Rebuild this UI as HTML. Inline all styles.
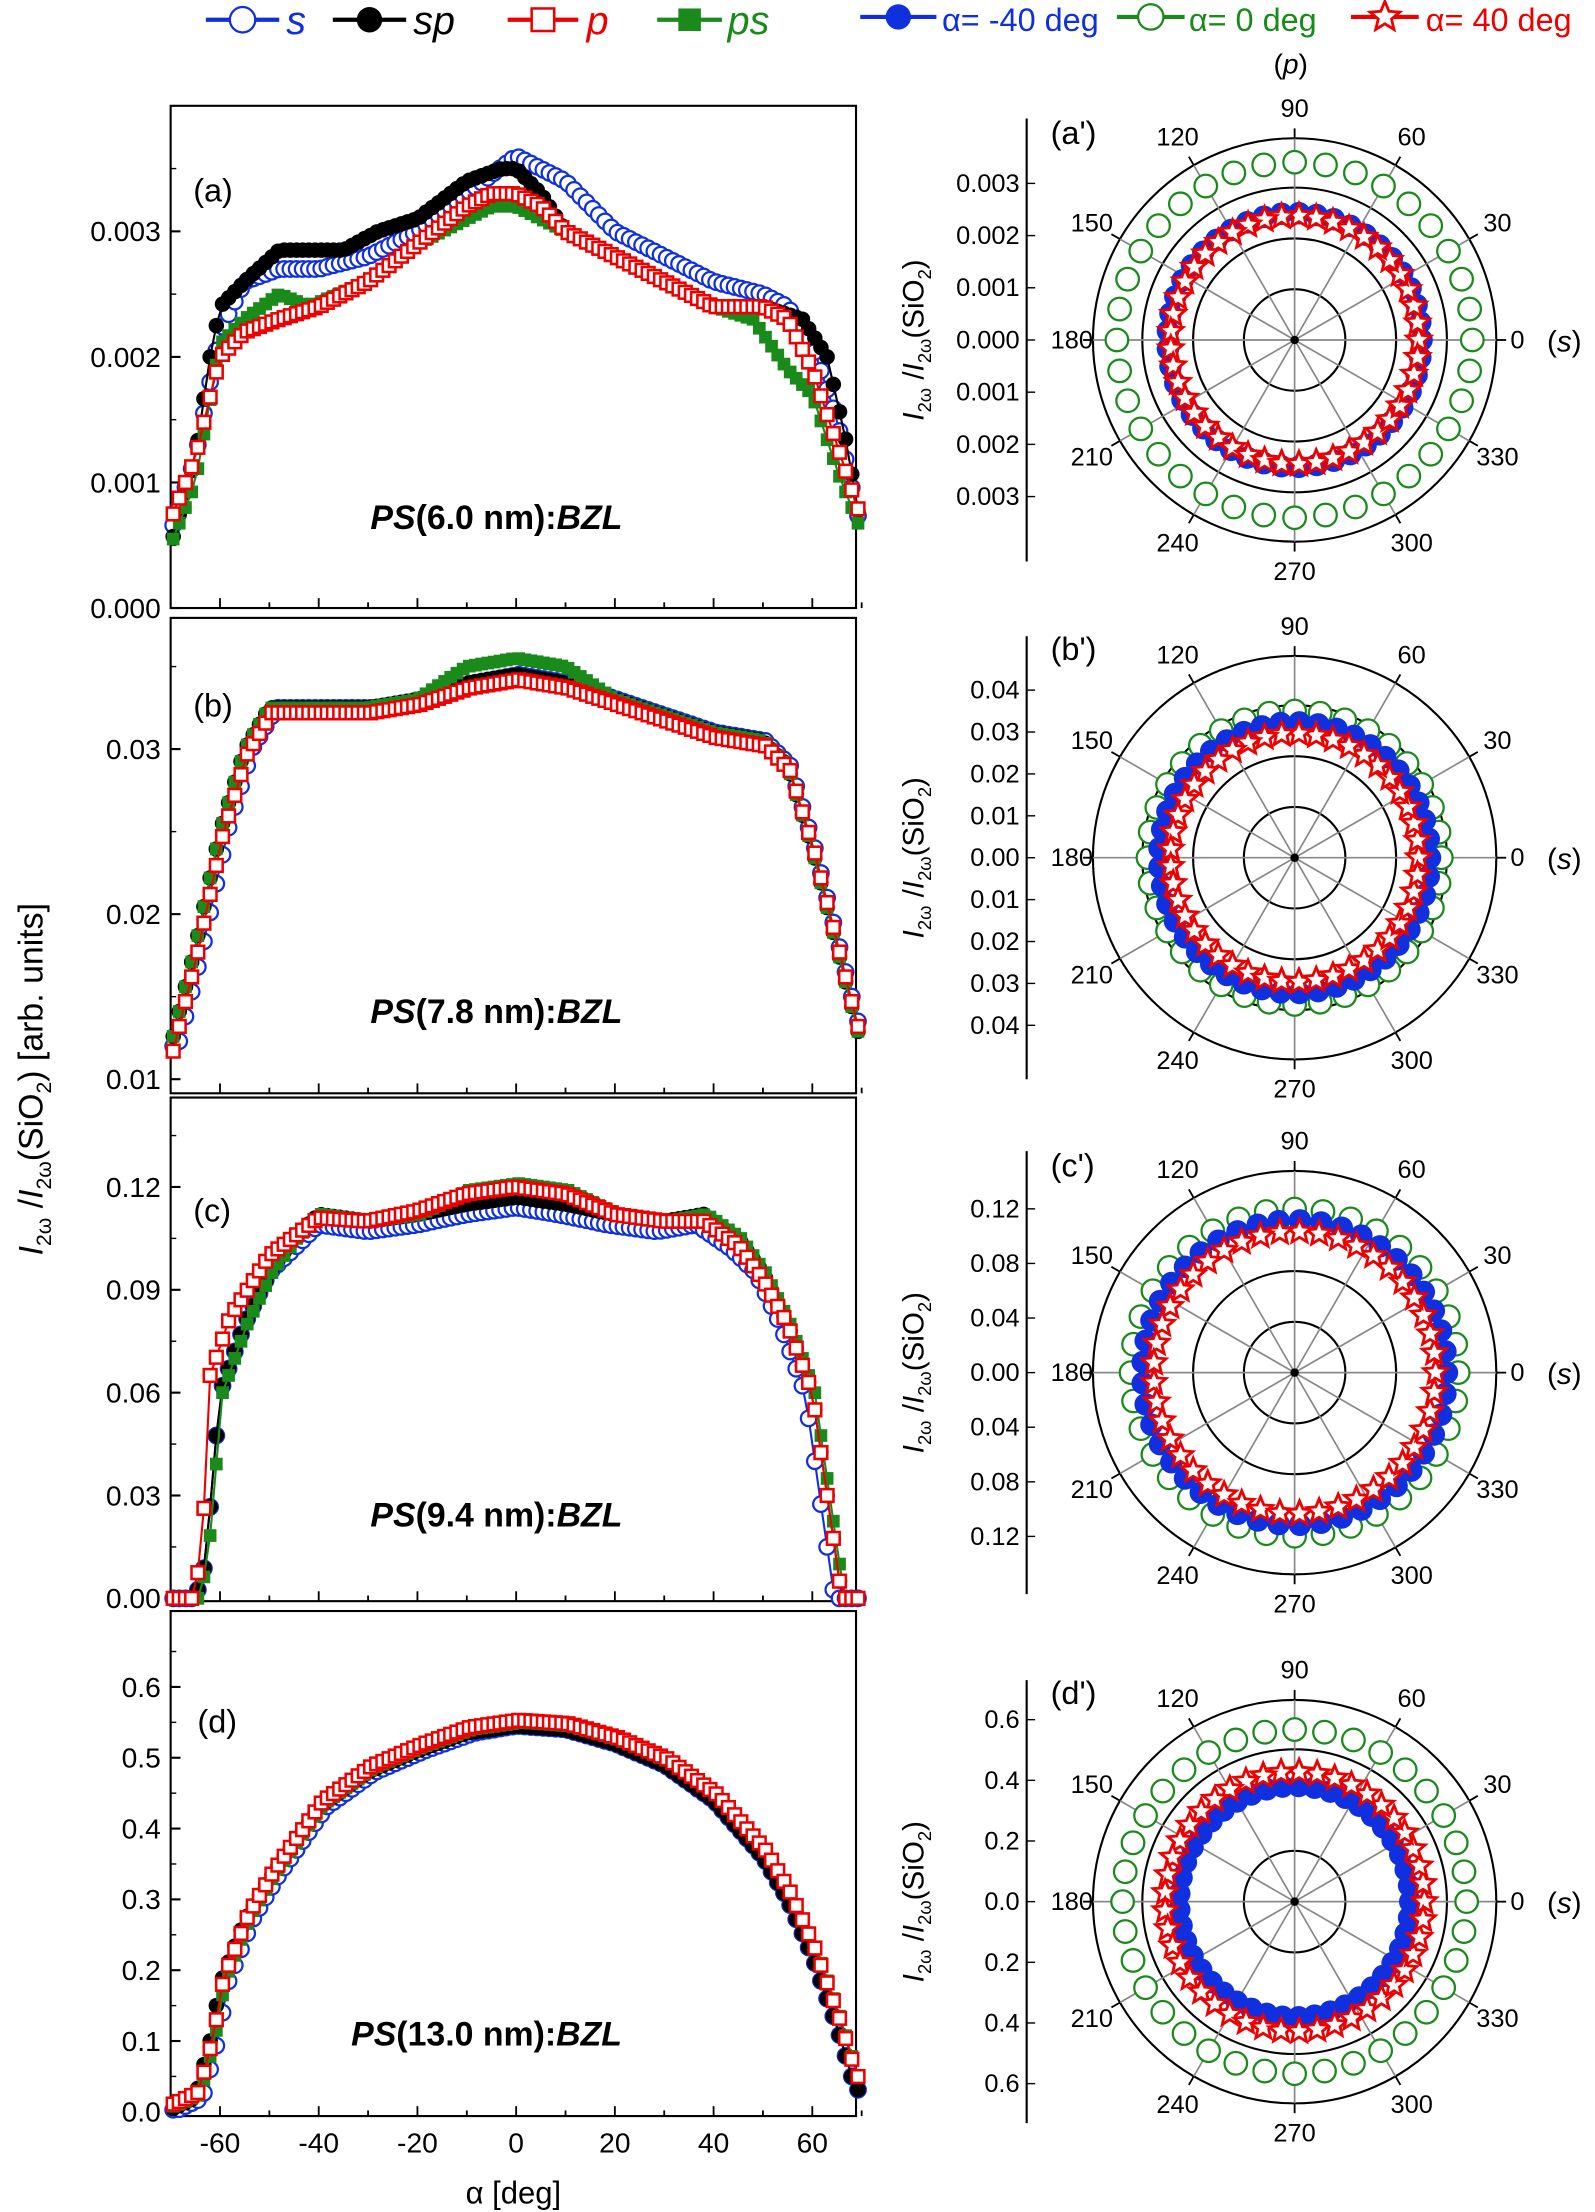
<!DOCTYPE html>
<html><head><meta charset="utf-8"><style>
html,body{margin:0;padding:0;background:#fff}
svg{display:block}
text{font-family:"Liberation Sans",sans-serif}
</style></head><body>
<svg id="s" width="1595" height="2212" viewBox="0 0 1131 1568" preserveAspectRatio="none" xmlns="http://www.w3.org/2000/svg">
<g id="g"></g>
<g font-size="28" font-style="italic">
<text x="203" y="24" fill="#1030e0">s</text>
<text x="293" y="24" fill="#000">sp</text>
<text x="416" y="24" fill="#e00">p</text>
<text x="516" y="24" fill="#1a8a1a">ps</text>
</g>
<g font-size="23">
<text x="668" y="22" fill="#1030e0">α= -40 deg</text>
<text x="843" y="22" fill="#1a8a1a">α= 0 deg</text>
<text x="1011" y="22" fill="#e00">α= 40 deg</text>
</g>
<text x="903" y="52" font-size="20">(<tspan font-style="italic">p</tspan>)</text>
<g font-size="23">
<text x="137" y="143">(a)</text><text x="137" y="508">(b)</text><text x="137" y="866">(c)</text><text x="140" y="1228">(d)</text>
<text x="745" y="102">(a')</text><text x="745" y="468">(b')</text><text x="745" y="834">(c')</text><text x="745" y="1208">(d')</text>
</g>
<g font-size="24" font-weight="bold" text-anchor="middle">
<text x="352" y="375"><tspan font-style="italic">PS</tspan>(6.0 nm):<tspan font-style="italic">BZL</tspan></text>
<text x="352" y="725"><tspan font-style="italic">PS</tspan>(7.8 nm):<tspan font-style="italic">BZL</tspan></text>
<text x="352" y="1082"><tspan font-style="italic">PS</tspan>(9.4 nm):<tspan font-style="italic">BZL</tspan></text>
<text x="345" y="1450"><tspan font-style="italic">PS</tspan>(13.0 nm):<tspan font-style="italic">BZL</tspan></text>
</g>
<text x="364" y="1562" font-size="22" text-anchor="middle">α [deg]</text>
<text transform="translate(30,765) rotate(-90)" font-size="24" text-anchor="middle"><tspan font-style="italic">I</tspan><tspan font-size="15" dy="6">2ω</tspan><tspan dy="-6"> /</tspan><tspan font-style="italic">I</tspan><tspan font-size="15" dy="6">2ω</tspan><tspan dy="-6">(SiO</tspan><tspan font-size="15" dy="6">2</tspan><tspan dy="-6">)  [arb. units]</tspan></text>
</svg>
<script>
var gEl=document.getElementById('g'),h='';
var B='#1030e0',K='#000',RC='#e00',GC='#1a8a1a';
function X(a){return 366+a*3.5}
function f1(v){return (+v).toFixed(1)}
function interp(pts,a){for(var i=0;i<pts.length-1;i++){if(a>=pts[i][0]&&a<=pts[i+1][0]){var t=(a-pts[i][0])/(pts[i+1][0]-pts[i][0]);return pts[i][1]+t*(pts[i+1][1]-pts[i][1]);}}return a<pts[0][0]?pts[0][1]:pts[pts.length-1][1];}
function star(cx,cy,r,c){cx=+cx;cy=+cy;var p='';for(var i=0;i<10;i++){var rr=i%2?r*0.45:r;var an=-Math.PI/2+i*Math.PI/5;p+=f1(cx+rr*Math.cos(an))+','+f1(cy+rr*Math.sin(an))+' ';}return '<polygon points="'+p+'" fill="#fff" stroke="'+c+'" stroke-width="2"/>';}
function mk(type,x,y,c,s){s=s||5.5;x=+x;y=+y;
 if(type=='oc')return '<circle cx="'+f1(x)+'" cy="'+f1(y)+'" r="'+s+'" fill="#fff" stroke="'+c+'" stroke-width="1.6"/>';
 if(type=='fc')return '<circle cx="'+f1(x)+'" cy="'+f1(y)+'" r="'+s+'" fill="'+c+'"/>';
 if(type=='os')return '<rect x="'+f1(x-s+1)+'" y="'+f1(y-s+1)+'" width="'+(2*s-2)+'" height="'+(2*s-2)+'" fill="#fff" stroke="'+c+'" stroke-width="1.8"/>';
 if(type=='fs')return '<rect x="'+f1(x-s+1)+'" y="'+f1(y-s+1)+'" width="'+(2*s-2)+'" height="'+(2*s-2)+'" fill="'+c+'"/>';
 if(type=='st')return star(x,y,s+3,c);return '';}
function legline(x1,x2,y,c,t){h+='<line x1="'+x1+'" y1="'+y+'" x2="'+x2+'" y2="'+y+'" stroke="'+c+'" stroke-width="3"/>'+mk(t,(x1+x2)/2,y,c,t=='st'?8:9);}
legline(146,198,14,B,'oc');legline(236,288,14,K,'fc');legline(360,410,14,RC,'os');legline(466,512,14,GC,'fs');
legline(610,664,12,B,'fc');legline(792,840,12,GC,'oc');legline(958,1006,12,RC,'st');
function panel(y0,y1,vb,vscale,ticks,fmt,minor,series,xlab){
 h+='<rect x="121" y="'+y0+'" width="486" height="'+(y1-y0)+'" fill="none" stroke="#000" stroke-width="1.5"/>';
 function Y(v){return vb-(v*vscale);}
 ticks.forEach(function(v){var y=Y(v);h+='<line x1="121" x2="128" y1="'+y+'" y2="'+y+'" stroke="#000" stroke-width="1.5"/><text x="114" y="'+(y+7)+'" font-size="20" text-anchor="end">'+fmt(v)+'</text>';});
 minor.forEach(function(v){var y=Y(v);if(y>y0)h+='<line x1="121" x2="125" y1="'+y+'" y2="'+y+'" stroke="#000"/>';});
 for(var a=-60;a<=70;a+=10){var x=X(a);h+='<line x1="'+x+'" x2="'+x+'" y1="'+y1+'" y2="'+(y1-(a%20==0?7:4))+'" stroke="#000" stroke-width="1.3"/>';if(xlab&&a%20==0&&a<70)h+='<text x="'+x+'" y="'+(y1+26)+'" font-size="20" text-anchor="middle">'+a+'</text>';}
 series.forEach(function(s){var pts='',m='';for(var a=-69.5;a<=69.6;a+=1.25){var v=interp(s.p,a);var y=Y(v);if(y>y1)y=y1;var x=X(a);pts+=f1(x)+','+f1(y)+' ';m+=mk(s.t,x,y,s.c);}h+='<polyline points="'+pts+'" fill="none" stroke="'+s.c+'" stroke-width="1.5"/>'+m;});
}
panel(75,431,431,89,[0,1,2,3],function(v){return '0.00'+v},[0.5,1.5,2.5,3.5],[
{c:B,t:'oc',p:[[-70,0.6],[-65,1.2],[-60,2.2],[-55,2.6],[-48,2.7],[-40,2.7],[-30,2.8],[-20,3.0],[-10,3.3],[0,3.6],[10,3.4],[20,3.0],[30,2.8],[40,2.6],[50,2.5],[55,2.4],[60,2.1],[65,1.5],[70,0.6]]},
{c:K,t:'fc',p:[[-70,0.5],[-65,1.2],[-62,2.0],[-60,2.4],[-55,2.6],[-48,2.85],[-35,2.85],[-28,3.0],[-20,3.1],[-10,3.4],[-3,3.5],[0,3.5],[5,3.3],[10,3.0],[20,2.8],[30,2.6],[40,2.4],[50,2.4],[58,2.3],[63,2.0],[67,1.3],[70,0.6]]},
{c:GC,t:'fs',p:[[-70,0.5],[-65,1.0],[-60,2.1],[-55,2.3],[-48,2.5],[-42,2.4],[-30,2.6],[-20,2.9],[-10,3.1],[-5,3.2],[0,3.2],[10,3.0],[20,2.8],[30,2.6],[40,2.4],[48,2.3],[55,1.9],[60,1.7],[65,1.1],[70,0.6]]},
{c:RC,t:'os',p:[[-70,0.7],[-65,1.2],[-60,2.0],[-55,2.2],[-48,2.3],[-40,2.4],[-30,2.6],[-20,2.9],[-10,3.2],[-5,3.3],[0,3.3],[5,3.2],[10,3.0],[20,2.8],[30,2.6],[40,2.4],[50,2.4],[55,2.3],[60,1.9],[65,1.3],[70,0.7]]}],false);
var bb=[[-70,1.2],[-65,1.8],[-60,2.5],[-55,3.0],[-50,3.25],[-45,3.25],[-30,3.25],[-20,3.3],[-10,3.4],[0,3.45],[10,3.4],[20,3.3],[30,3.2],[40,3.1],[50,3.05],[55,2.9],[60,2.4],[65,1.8],[70,1.2]];
panel(438,775,765+117,117,[1,2,3],function(v){return '0.0'+v},[1.5,2.5,3.5],[
{c:B,t:'oc',p:bb.map(function(q){return [q[0]+(q[0]<0?1.5:0.5),q[1]]})},
{c:K,t:'fc',p:bb},
{c:GC,t:'fs',p:bb.map(function(q){return [q[0],q[1]+(Math.abs(q[0])<15?0.1:0)]})},
{c:RC,t:'os',p:bb.map(function(q){return [q[0]+0.5,q[1]-0.03]})}],false);
var cc=[[-70,0],[-65,0],[-63,1],[-60,6],[-55,8],[-50,9.5],[-45,10.5],[-40,11.2],[-30,11],[-20,11.2],[-10,11.5],[0,11.7],[10,11.5],[20,11.2],[30,11],[38,11.2],[45,10.5],[50,9.5],[55,8],[60,6],[63,3],[66,0],[70,0]];
panel(778,1135,1133,24.3,[0,3,6,9,12],function(v){return (v/100).toFixed(2)},[1.5,4.5,7.5,10.5,13.5],[
{c:B,t:'oc',p:cc.map(function(q){return [q[0]+(q[0]>0?-1.5:0),q[1]-(q[1]>10?0.3:0)]})},
{c:K,t:'fc',p:cc},
{c:GC,t:'fs',p:cc.map(function(q){return [q[0]+0.5,q[1]+(Math.abs(q[0])<12?0.4:0)]})},
{c:RC,t:'os',p:[[-70,0],[-65,0],[-63,3],[-62,6.5],[-58,8.2],[-50,10],[-40,11.1],[-30,11],[-20,11.3],[-10,11.8],[0,12],[10,11.8],[20,11.2],[30,11],[38,11],[45,10.3],[50,9.3],[55,8],[60,6],[63,3],[66,0],[70,0]]}],false);
var dd=[[-70,0.3],[-65,2],[-62,10],[-60,18],[-55,27],[-50,33],[-45,38],[-40,43],[-30,48],[-20,51],[-10,53.5],[0,54.5],[10,54],[20,52],[30,49],[40,44],[50,36],[55,30],[60,22],[65,12],[68,5],[70,2]];
panel(1142,1500,1497,5.02,[0,10,20,30,40,50,60],function(v){return (v/100).toFixed(1)},[5,15,25,35,45,55,65],[
{c:B,t:'oc',p:dd.map(function(q){return [q[0]+(q[0]<0?1.5:0),q[1]]})},
{c:K,t:'fc',p:dd},
{c:GC,t:'fs',p:dd.map(function(q){return [q[0]+1,q[1]+0.5]})},
{c:RC,t:'os',p:dd.map(function(q){return [q[0]+0.7,q[1]+0.8]})}],true);
function polar(cy,rg,rb,rr,tstep,labs,inner){
 var cx=918,R0=143;
 inner.forEach(function(r){h+='<circle cx="'+cx+'" cy="'+cy+'" r="'+r+'" fill="none" stroke="#000" stroke-width="1.5"/>';});
 h+='<circle cx="'+cx+'" cy="'+cy+'" r="'+R0+'" fill="none" stroke="#000" stroke-width="1.5"/>';
 for(var d=0;d<360;d+=30){var a=d*Math.PI/180;h+='<line x1="'+cx+'" y1="'+cy+'" x2="'+f1(cx+R0*Math.cos(a))+'" y2="'+f1(cy-R0*Math.sin(a))+'" stroke="#888" stroke-width="1.2"/>';
  h+='<line x1="'+f1(cx+R0*Math.cos(a))+'" y1="'+f1(cy-R0*Math.sin(a))+'" x2="'+f1(cx+(R0+7)*Math.cos(a))+'" y2="'+f1(cy-(R0+7)*Math.sin(a))+'" stroke="#000" stroke-width="1.3"/>';
  var lr=d%90==0?(d==0||d==180?158:164):166;var lx=cx+lr*Math.cos(a),ly=cy-lr*Math.sin(a)+6;
  h+='<text x="'+f1(lx)+'" y="'+f1(ly)+'" font-size="18" text-anchor="middle">'+d+'</text>';}
 h+='<text x="1097" y="'+(cy+8)+'" font-size="21">(<tspan font-style="italic">s</tspan>)</text>';
 h+='<line x1="728" x2="728" y1="'+(cy-157)+'" y2="'+(cy+157)+'" stroke="#000" stroke-width="1.5"/>';
 labs.forEach(function(l,i){var y=cy-tstep*(labs.length-1)/2+i*tstep;h+='<line x1="728" x2="734" y1="'+y+'" y2="'+y+'" stroke="#000"/><text x="723" y="'+(y+6)+'" font-size="18" text-anchor="end">'+l+'</text>';});
 h+='<text transform="translate(655,'+cy+') rotate(-90)" font-size="21" text-anchor="middle"><tspan font-style="italic">I</tspan><tspan font-size="13" dy="5">2ω</tspan><tspan dy="-5"> /</tspan><tspan font-style="italic">I</tspan><tspan font-size="13" dy="5">2ω</tspan><tspan dy="-5">(SiO</tspan><tspan font-size="13" dy="5">2</tspan><tspan dy="-5">)</tspan></text>';
 var d2;
 for(d2=0;d2<360;d2+=10){var a2=d2*Math.PI/180;h+=mk('oc',cx+rg*Math.cos(a2),cy-rg*Math.sin(a2),GC,8);}
 for(d2=0;d2<360;d2+=8){var a3=d2*Math.PI/180;h+=mk('fc',cx+rb*Math.cos(a3),cy-rb*Math.sin(a3),B,8);}
 for(d2=0;d2<360;d2+=8){var a4=d2*Math.PI/180;h+=mk('st',cx+rr*Math.cos(a4),cy-rr*Math.sin(a4),RC,6);}
 h+='<circle cx="'+cx+'" cy="'+cy+'" r="3" fill="#000"/>';
}
polar(241,126,90,88,37,['0.003','0.002','0.001','0.000','0.001','0.002','0.003'],[36,72,108]);
polar(608,104,96,88,29.7,['0.04','0.03','0.02','0.01','0.00','0.01','0.02','0.03','0.04'],[36,72,108]);
polar(973,116,108,100,38.7,['0.12','0.08','0.04','0.00','0.04','0.08','0.12'],[36,72,108]);
polar(1348,122,82,92,43,['0.6','0.4','0.2','0.0','0.2','0.4','0.6'],[36,108]);
gEl.innerHTML=h;
</script>
</body></html>
